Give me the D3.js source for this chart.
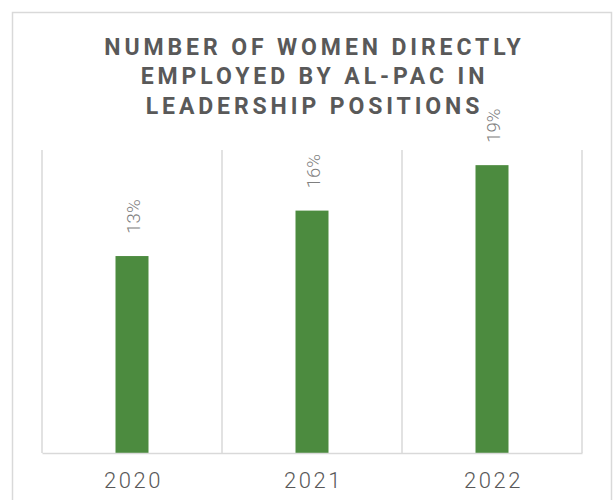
<!DOCTYPE html>
<html><head><meta charset="utf-8">
<script src="https://cdn.jsdelivr.net/npm/d3@7"></script>
<style>body{margin:0;background:#fff}svg{display:block}</style>
</head><body>
<script>
const categories = ["2020", "2021", "2022"];
const values = [13, 16, 19];
const titleLines = ["NUMBER OF WOMEN DIRECTLY", "EMPLOYED BY AL-PAC IN", "LEADERSHIP POSITIONS"];

const W = 615, H = 500;
const svg = d3.select("body").append("svg").attr("width", W).attr("height", H);
svg.append("rect").attr("x", 12.5).attr("y", 12.5).attr("width", 599).attr("height", 500)
  .attr("fill", "#fff").attr("stroke", "#d9d9d9").attr("stroke-width", 1.5);

const m = {left: 42, right: 582, top: 150, bottom: 453};
const x = d3.scaleBand().domain(categories).range([m.left, m.right]).paddingInner(0).paddingOuter(0);
const y = d3.scaleLinear().domain([0, 20]).range([m.bottom, m.top]);

// vertical gridlines at band boundaries
const bounds = categories.map(c => x(c)).concat([m.right]);
svg.selectAll(".grid").data(bounds).join("line")
  .attr("x1", d => d).attr("x2", d => d).attr("y1", m.top).attr("y2", m.bottom)
  .attr("stroke", "#d9d9d9").attr("stroke-width", 1.5);

const bw = 33;
svg.selectAll(".bar").data(values).join("rect")
  .attr("x", (d, i) => x(categories[i]) + x.bandwidth() / 2 - bw / 2)
  .attr("y", d => y(d)).attr("width", bw).attr("height", d => y(0) - y(d))
  .attr("fill", "#4c8b3f");

// baseline axis
const xAxis = d3.axisBottom(x).tickSize(0).tickPadding(0);
const ax = svg.append("g").attr("transform", `translate(0,${m.bottom})`).call(xAxis);
ax.select(".domain").attr("stroke", "#d9d9d9").attr("stroke-width", 1.5);
ax.selectAll("text").attr("dy", 0).attr("y", 35).attr("x", 1.5)
  .attr("font-family", "Roboto").attr("font-weight", 300).attr("font-size", 22)
  .attr("fill", "#595959").attr("letter-spacing", 2.6);

// data labels, rotated
svg.selectAll(".lbl").data(values).join("text")
  .attr("transform", (d, i) => `translate(${x(categories[i]) + x.bandwidth() / 2 + 7.5},${y(d) - 39.5}) rotate(-90)`)
  .attr("text-anchor", "middle")
  .attr("font-family", "Roboto").attr("font-weight", 300).attr("font-size", 18.5)
  .attr("fill", "#7f7f7f")
  .text(d => d + "%");

// title
svg.selectAll(".title").data(titleLines).join("text")
  .attr("x", 314.5).attr("y", (d, i) => 54.5 + i * 29.7)
  .attr("text-anchor", "middle")
  .attr("font-family", "Roboto").attr("font-weight", 700).attr("font-size", 23)
  .attr("fill", "#595959").attr("letter-spacing", 3.9)
  .text(d => d);
</script>
</body></html>
